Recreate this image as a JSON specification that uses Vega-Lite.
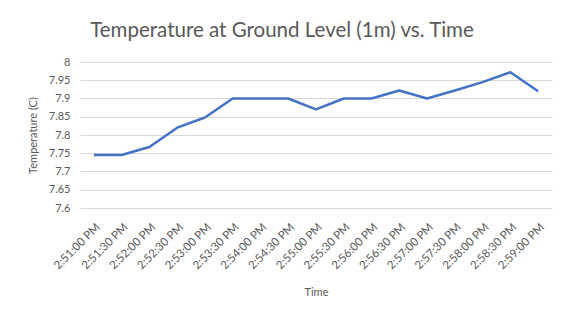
{
  "$schema": "https://vega.github.io/schema/vega-lite/v6.json",
  "width": 472,
  "height": 146,
  "autosize": {"type": "none"},
  "padding": {"left": 80, "top": 62, "right": 16, "bottom": 112},
  "background": "white",
  "title": {
    "text": "Temperature at Ground Level (1m) vs. Time",
    "font": "Lato",
    "fontSize": 20.5,
    "fontWeight": "normal",
    "color": "#595959",
    "anchor": "middle",
    "dx": -34,
    "offset": 15
  },
  "data": {
    "values": [
      {"Time": "2:51:00 PM", "Temp": 7.745},
      {"Time": "2:51:30 PM", "Temp": 7.745},
      {"Time": "2:52:00 PM", "Temp": 7.767},
      {"Time": "2:52:30 PM", "Temp": 7.82},
      {"Time": "2:53:00 PM", "Temp": 7.848},
      {"Time": "2:53:30 PM", "Temp": 7.9},
      {"Time": "2:54:00 PM", "Temp": 7.9},
      {"Time": "2:54:30 PM", "Temp": 7.9},
      {"Time": "2:55:00 PM", "Temp": 7.87},
      {"Time": "2:55:30 PM", "Temp": 7.9},
      {"Time": "2:56:00 PM", "Temp": 7.9},
      {"Time": "2:56:30 PM", "Temp": 7.922},
      {"Time": "2:57:00 PM", "Temp": 7.9},
      {"Time": "2:57:30 PM", "Temp": 7.922},
      {"Time": "2:58:00 PM", "Temp": 7.945},
      {"Time": "2:58:30 PM", "Temp": 7.972},
      {"Time": "2:59:00 PM", "Temp": 7.92}
    ]
  },
  "mark": {"type": "line", "color": "#4472C4", "strokeWidth": 2.5, "strokeJoin": "round"},
  "encoding": {
    "x": {
      "field": "Time",
      "type": "ordinal",
      "sort": null,
      "scale": {"type": "point", "padding": 0.5},
      "axis": {
        "title": "Time",
        "titleFont": "Lato",
        "titleFontSize": 11,
        "titleFontWeight": "normal",
        "titleColor": "#595959",
        "titlePadding": 15,
        "labelAngle": -45,
        "labelFont": "Lato",
        "labelFontSize": 11.5,
        "labelColor": "#595959",
        "labelPadding": 13,
        "ticks": false,
        "domain": false,
        "grid": false
      }
    },
    "y": {
      "field": "Temp",
      "type": "quantitative",
      "scale": {"domain": [7.6, 8], "nice": false, "zero": false},
      "axis": {
        "title": "Temperature (C)",
        "titleFont": "Lato",
        "titleFontSize": 11,
        "titleFontWeight": "normal",
        "titleColor": "#595959",
        "titlePadding": 10,
        "values": [7.6, 7.65, 7.7, 7.75, 7.8, 7.85, 7.9, 7.95, 8],
        "format": "~f",
        "labelFont": "Lato",
        "labelFontSize": 11,
        "labelColor": "#595959",
        "labelPadding": 10,
        "ticks": false,
        "domain": false,
        "grid": true,
        "gridColor": "#d9d9d9",
        "gridWidth": 1
      }
    }
  },
  "config": {"view": {"stroke": null}}
}
